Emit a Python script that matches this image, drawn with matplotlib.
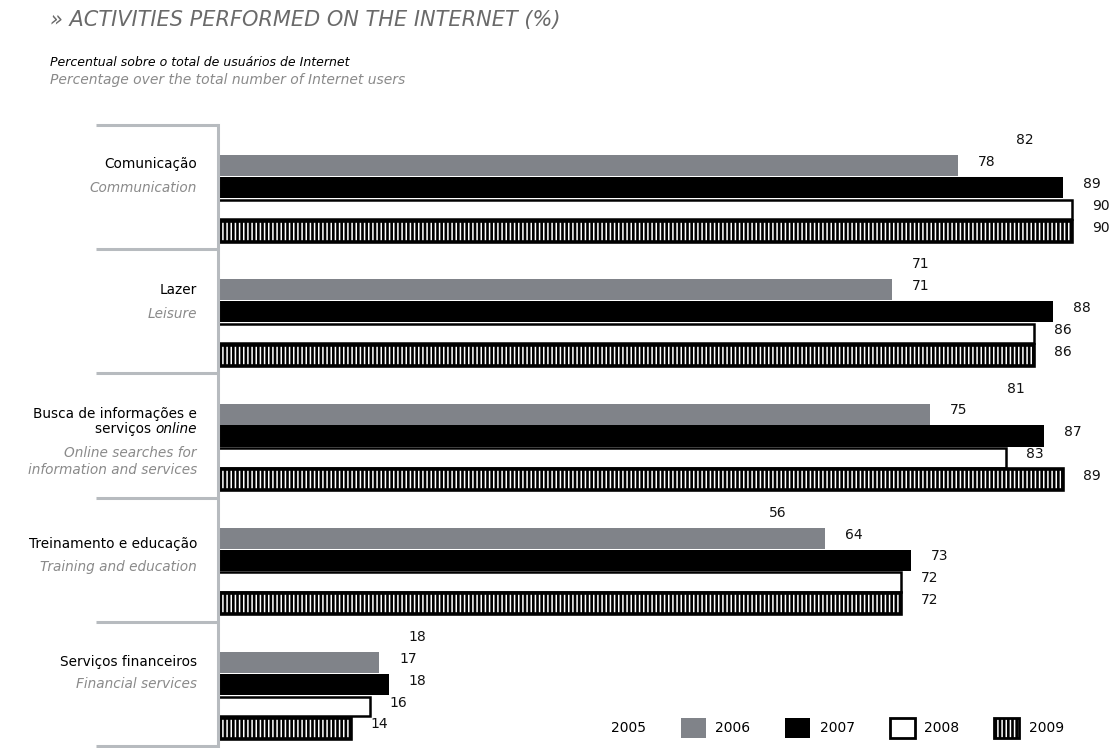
import matplotlib
matplotlib.use('Agg')
import matplotlib.pyplot as plt
import matplotlib.transforms as mtransforms
from matplotlib.patches import Patch

# Data
categories_pt = ['Comunicação', 'Lazer', 'Busca de informações e\nserviços online',
                 'Treinamento e educação', 'Serviços financeiros']
categories_en = ['Communication', 'Leisure', 'Online searches for\ninformation and services',
                 'Training and education', 'Financial services']
years = ['2005', '2006', '2007', '2008', '2009']
v2005 = [82, 71, 81, 56, 18]
v2006 = [78, 71, 75, 64, 17]
v2007 = [89, 88, 87, 73, 18]
v2008 = [90, 86, 83, 72, 16]
v2009 = [90, 86, 89, 72, 14]
series = [v2005, v2006, v2007, v2008, v2009]

plt.rcParams['font.family'] = 'DejaVu Sans'
plt.rcParams['hatch.color'] = 'white'
plt.rcParams['hatch.linewidth'] = 1.1

W, H = 1112, 748
fig = plt.figure(figsize=(W / 100, H / 100), dpi=100)
ax = fig.add_axes([218 / W, 2 / H, (W - 218) / W, 621 / H])

GRAY = '#808389'
LINE = '#b7bbbf'
slot = 0.176
bh = 0.17
top = 0.064

for j, vals in enumerate(series):
    ys = [i + top + slot * (j + 0.5) for i in range(len(categories_pt))]
    if j == 0:
        # 2005 bar is white on white in the original
        ax.barh(ys, vals, height=bh, color='white', linewidth=0)
    elif j == 1:
        ax.barh(ys, vals, height=bh, color=GRAY, linewidth=0)
    elif j == 2:
        ax.barh(ys, vals, height=bh, color='black', linewidth=0)
    elif j == 3:
        ax.barh(ys, vals, height=bh * 0.92, facecolor='white', edgecolor='black', linewidth=1.8)
    else:
        ax.barh(ys, vals, height=bh, facecolor='black', hatch='||||', linewidth=0)
        ax.barh(ys, vals, height=bh, fill=False, edgecolor='black', linewidth=2.6)
    for y, v in zip(ys, vals):
        ax.text(v + 2.1, y - 0.03, str(v), fontsize=10, va='center', ha='left', color='#111111')

ax.set_xlim(0, (W - 218) / 9.49)
ax.set_ylim(5, 0)
ax.set_xticks([])
ax.set_yticks([])
for s in ['top', 'right', 'bottom']:
    ax.spines[s].set_visible(False)
ax.spines['left'].set_color(LINE)
ax.spines['left'].set_linewidth(2.2)

trans = mtransforms.blended_transform_factory(ax.transAxes, ax.transData)
x0 = (96 - 218) / (W - 218)
for i in range(len(categories_pt) + 1):
    ax.plot([x0, 0], [i, i], color=LINE, lw=2.2, transform=trans, clip_on=False,
            solid_capstyle='butt')

# category labels (Portuguese black, English italic gray)
lx = (197 - 218) / (W - 218)
pt_off = [0.31, 0.33, 0.33, 0.37, 0.32]
en_off = [0.51, 0.52, 0.71, 0.56, 0.50]
pt_size = 9.8
for i in range(len(categories_pt)):
    if i == 2:
        ax.text(lx, i + 0.33, 'Busca de informações e', transform=trans, ha='right',
                va='center', fontsize=pt_size, color='black')
        t = ax.text(lx, i + 0.45, 'online', transform=trans, ha='right', va='center',
                    fontsize=pt_size, color='black', style='italic')
        fig.canvas.draw()
        bb = t.get_window_extent()
        xs = ax.transAxes.inverted().transform((bb.x0, 0))[0]
        ax.text(xs, i + 0.45, 'serviços ', transform=trans, ha='right', va='center',
                fontsize=pt_size, color='black')
    else:
        ax.text(lx, i + pt_off[i], categories_pt[i], transform=trans, ha='right',
                va='center', fontsize=pt_size, color='black')
    ax.text(lx, i + en_off[i], categories_en[i], transform=trans, ha='right',
            va='center', fontsize=9.8, color='#8a8a8a', style='italic',
            linespacing=1.2)

# titles
fig.text(50 / W, 1 - 20 / H, '» ACTIVITIES PERFORMED ON THE INTERNET (%)', fontsize=15,
         color='#6a6a6a', style='italic', va='center', ha='left')
fig.text(50 / W, 1 - 62 / H, 'Percentual sobre o total de usuários de Internet', fontsize=9,
         color='black', style='italic', va='center', ha='left')
fig.text(50 / W, 1 - 80 / H, 'Percentage over the total number of Internet users', fontsize=10,
         color='#8a8a8a', style='italic', va='center', ha='left')

# legend
handles = [
    Patch(facecolor='white', edgecolor='white', linewidth=0),
    Patch(facecolor=GRAY, linewidth=0),
    Patch(facecolor='black', linewidth=0),
    Patch(facecolor='white', edgecolor='black', linewidth=2),
    (Patch(facecolor='black', hatch='||||', linewidth=0),
     Patch(fill=False, edgecolor='black', linewidth=2)),
]
fig.legend(handles, years, loc='center', bbox_to_anchor=(820 / W, 20 / H), ncol=5,
           frameon=False, fontsize=10, handlelength=1.8, handleheight=1.8,
           handletextpad=0.7, columnspacing=2.5, borderpad=0)

fig.savefig('out.png', dpi=100)
